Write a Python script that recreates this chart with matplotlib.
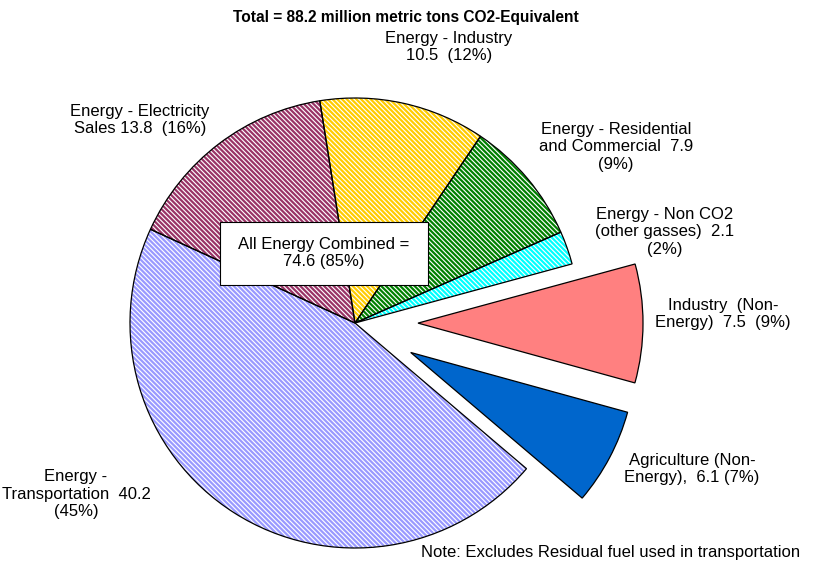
import matplotlib
matplotlib.use("Agg")
import matplotlib.pyplot as plt
from matplotlib.patches import Rectangle

plt.rcParams['font.family'] = ['Liberation Sans', 'DejaVu Sans']
plt.rcParams['hatch.linewidth'] = 1.6

# slices, clockwise from the top
labels = ['Energy - Industry\n10.5  (12%)',
          'Energy - Residential\nand Commercial  7.9\n(9%)',
          'Energy - Non CO2\n(other gasses)  2.1\n(2%)',
          'Industry  (Non-\nEnergy)  7.5  (9%)',
          'Agriculture (Non-\nEnergy),  6.1 (7%)',
          'Energy -\nTransportation  40.2\n(45%)',
          'Energy - Electricity\nSales 13.8  (16%)']
values = [10.5, 7.9, 2.1, 7.5, 6.1, 40.2, 13.8]
colors = ['#FFCC00', '#008000', '#00FFFF', '#FF8080', '#0066CC', '#9999FF', '#993366']
hatched = [True, True, True, False, False, True, True]
explode = [0, 0, 0, 0.28, 0.28, 0, 0]

# label centres in pixels (x from left, y from top)
label_px = [(449, 47), (616, 147), (665, 232), (723, 314),
            (692, 469), (76, 494), (140, 120)]

W, H = 829, 568
cx, cy, R = 355, 323, 225


def to_data(px, py):
    return (px - cx) / R, (cy - py) / R


fig = plt.figure(figsize=(W / 100, H / 100), dpi=100)
ax = fig.add_axes([0, 0, 1, 1])

# fill / hatch layer
fills, _ = ax.pie(values, explode=explode, startangle=99, counterclock=False,
                  radius=1)
for w, c, h in zip(fills, colors, hatched):
    if h:
        w.set_facecolor('white')
        w.set_edgecolor(c)
        w.set_hatch('\\' * 7)
    else:
        w.set_facecolor(c)
        w.set_edgecolor(c)
    w.set_linewidth(0)

# outlines
outlines, _ = ax.pie(values, explode=explode, startangle=99, counterclock=False,
                     radius=1, colors=['none'] * len(values),
                     wedgeprops=dict(edgecolor='black', linewidth=0.9))

ax.set_xlim(-cx / R, (W - cx) / R)
ax.set_ylim(-(H - cy) / R, cy / R)
ax.set_aspect('equal')
ax.axis('off')

for lab, (px, py) in zip(labels, label_px):
    x, y = to_data(px, py)
    ax.text(x, y, lab, ha='center', va='center', fontsize=12, linespacing=1.2)

# combined-energy callout box
x0, y0 = to_data(220, 285)
x1, y1 = to_data(428, 222)
ax.add_patch(Rectangle((x0, y0), x1 - x0, y1 - y0, facecolor='white',
                       edgecolor='black', linewidth=0.8, zorder=3))
x, y = to_data(324, 253)
ax.text(x, y, 'All Energy Combined =\n74.6 (85%)', ha='center', va='center',
        fontsize=12, linespacing=1.2, zorder=4)

x, y = to_data(406, 18)
ax.text(x, y, 'Total = 88.2 million metric tons CO2-Equivalent', ha='center',
        va='center', fontsize=11.2, fontweight='bold')

x, y = to_data(800, 553)
ax.text(x, y, 'Note: Excludes Residual fuel used in transportation', ha='right',
        va='center', fontsize=12)

fig.savefig('out.png', dpi=100)
